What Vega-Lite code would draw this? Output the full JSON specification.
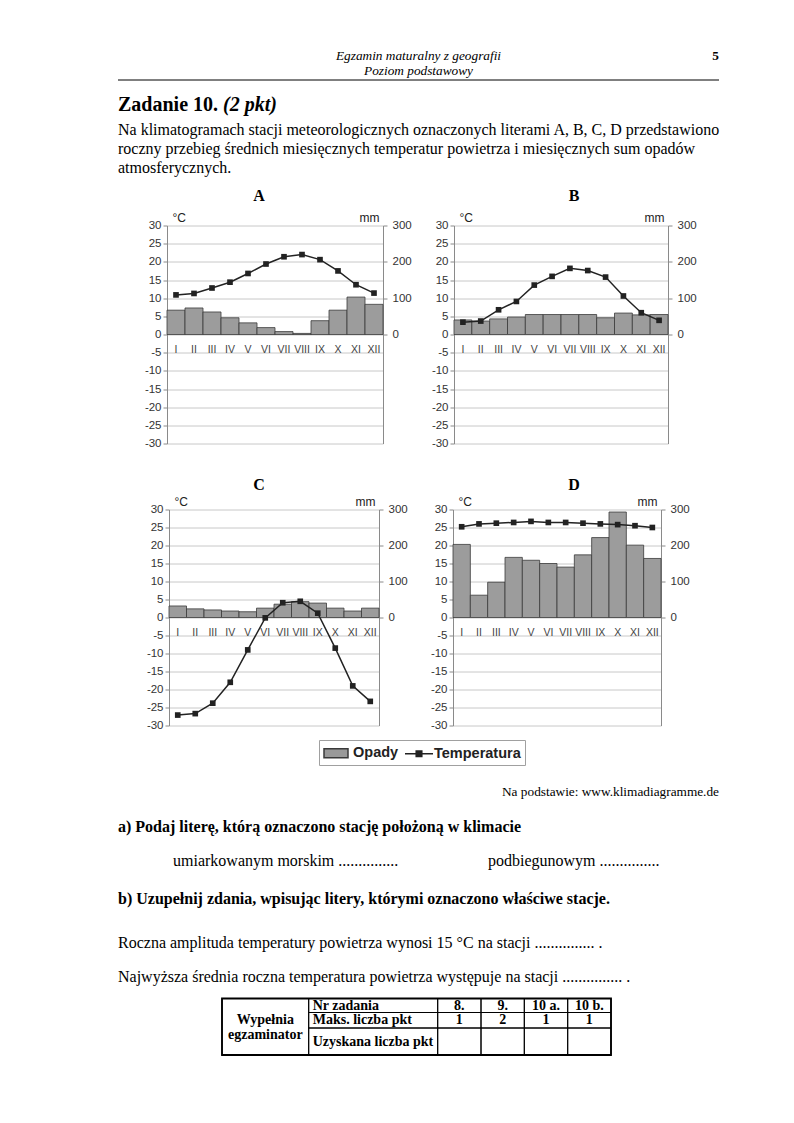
{
  "$schema": "https://vega.github.io/schema/vega-lite/v6.json",
  "padding": {"left": 117, "top": 48.5, "right": 20, "bottom": 20},
  "background": "white",
  "datasets": {
    "climate": [
      {"station": "A", "month": "I", "temp": 10.9, "precip": 67},
      {"station": "A", "month": "II", "temp": 11.3, "precip": 73},
      {"station": "A", "month": "III", "temp": 12.8, "precip": 62},
      {"station": "A", "month": "IV", "temp": 14.4, "precip": 46},
      {"station": "A", "month": "V", "temp": 16.8, "precip": 32},
      {"station": "A", "month": "VI", "temp": 19.4, "precip": 19},
      {"station": "A", "month": "VII", "temp": 21.4, "precip": 8},
      {"station": "A", "month": "VIII", "temp": 22.0, "precip": 3},
      {"station": "A", "month": "IX", "temp": 20.6, "precip": 38},
      {"station": "A", "month": "X", "temp": 17.5, "precip": 67},
      {"station": "A", "month": "XI", "temp": 13.7, "precip": 103},
      {"station": "A", "month": "XII", "temp": 11.4, "precip": 83},
      {"station": "B", "month": "I", "temp": 3.4, "precip": 40},
      {"station": "B", "month": "II", "temp": 3.7, "precip": 37},
      {"station": "B", "month": "III", "temp": 6.8, "precip": 43},
      {"station": "B", "month": "IV", "temp": 9.1, "precip": 48},
      {"station": "B", "month": "V", "temp": 13.6, "precip": 55},
      {"station": "B", "month": "VI", "temp": 16.0, "precip": 55},
      {"station": "B", "month": "VII", "temp": 18.2, "precip": 55},
      {"station": "B", "month": "VIII", "temp": 17.6, "precip": 55},
      {"station": "B", "month": "IX", "temp": 15.8, "precip": 46},
      {"station": "B", "month": "X", "temp": 10.6, "precip": 59},
      {"station": "B", "month": "XI", "temp": 6.0, "precip": 54},
      {"station": "B", "month": "XII", "temp": 3.9, "precip": 55},
      {"station": "C", "month": "I", "temp": -27.1, "precip": 32},
      {"station": "C", "month": "II", "temp": -26.7, "precip": 24},
      {"station": "C", "month": "III", "temp": -23.8, "precip": 21},
      {"station": "C", "month": "IV", "temp": -18.0, "precip": 18},
      {"station": "C", "month": "V", "temp": -9.0, "precip": 16},
      {"station": "C", "month": "VI", "temp": -0.1, "precip": 26},
      {"station": "C", "month": "VII", "temp": 4.1, "precip": 37},
      {"station": "C", "month": "VIII", "temp": 4.5, "precip": 44},
      {"station": "C", "month": "IX", "temp": 1.2, "precip": 40},
      {"station": "C", "month": "X", "temp": -8.5, "precip": 26},
      {"station": "C", "month": "XI", "temp": -19.0, "precip": 18},
      {"station": "C", "month": "XII", "temp": -23.3, "precip": 26},
      {"station": "D", "month": "I", "temp": 25.2, "precip": 203},
      {"station": "D", "month": "II", "temp": 26.0, "precip": 62},
      {"station": "D", "month": "III", "temp": 26.2, "precip": 98},
      {"station": "D", "month": "IV", "temp": 26.4, "precip": 167},
      {"station": "D", "month": "V", "temp": 26.7, "precip": 159},
      {"station": "D", "month": "VI", "temp": 26.4, "precip": 150},
      {"station": "D", "month": "VII", "temp": 26.4, "precip": 140},
      {"station": "D", "month": "VIII", "temp": 26.2, "precip": 174},
      {"station": "D", "month": "IX", "temp": 26.0, "precip": 222},
      {"station": "D", "month": "X", "temp": 25.8, "precip": 293},
      {"station": "D", "month": "XI", "temp": 25.5, "precip": 201},
      {"station": "D", "month": "XII", "temp": 25.0, "precip": 164}
    ]
  },
  "config": {
    "view": {"stroke": null},
    "font": "Liberation Serif",
    "axis": {"labelFont": "Liberation Sans", "labelFontSize": 11.5, "labelColor": "#333", "domainColor": "#8a8a8a", "tickColor": "#8a8a8a", "gridColor": "#c8c8c8", "tickSize": 4, "labelPadding": 2}
  },
  "spacing": 0,
  "bounds": "full",
  "vconcat": [
    {
      "width": 601, "height": 15,
      "data": {"values": [{"t": "Egzamin maturalny z geografii", "page": "5"}]},
      "layer": [
        {"mark": {"type": "text", "align": "center", "baseline": "middle", "font": "Liberation Serif", "fontSize": 13.3, "fontStyle": "italic", "color": "#000"},
         "encoding": {"text": {"field": "t"}}},
        {"mark": {"type": "text", "align": "right", "baseline": "middle", "font": "Liberation Serif", "fontSize": 13.3, "fontWeight": "bold", "color": "#000"},
         "encoding": {"text": {"field": "page"}, "x": {"datum": 1, "type": "quantitative", "scale": {"domain": [0, 1], "nice": false}, "axis": null}}}
      ]
    },
    {
      "width": 601, "height": 15,
      "data": {"values": [{"t": "Poziom podstawowy"}]},
      "mark": {"type": "text", "align": "center", "baseline": "middle", "font": "Liberation Serif", "fontSize": 13.3, "fontStyle": "italic", "color": "#000"},
      "encoding": {"text": {"field": "t"}}
    },
    {
      "width": 601, "height": 3,
      "data": {"values": [{"from": 0, "to": 1}]},
      "mark": {"type": "rule", "color": "#000", "strokeWidth": 1},
      "encoding": {
        "x": {"field": "from", "type": "quantitative", "scale": {"domain": [0, 1], "nice": false}, "axis": null},
        "x2": {"field": "to"},
        "y": {"datum": 0.5, "type": "quantitative", "scale": {"domain": [0, 1], "nice": false}, "axis": null}
      }
    },
    {"width": 1, "height": 10.5, "data": {"values": []}, "mark": "point"},
    {
      "width": 601, "height": 24,
      "data": {"values": [{"t": "Zadanie 10.", "pts": "(2 pkt)"}]},
      "layer": [
        {"mark": {"type": "text", "align": "left", "baseline": "middle", "font": "Liberation Serif", "fontSize": 20, "fontWeight": "bold", "color": "#000"},
         "encoding": {"text": {"field": "t"}, "x": {"datum": 0, "type": "quantitative", "scale": {"domain": [0, 1], "nice": false}, "axis": null}}},
        {"mark": {"type": "text", "align": "left", "baseline": "middle", "dx": 105, "font": "Liberation Serif", "fontSize": 20, "fontWeight": "bold", "fontStyle": "italic", "color": "#000"},
         "encoding": {"text": {"field": "pts"}, "x": {"datum": 0, "type": "quantitative", "scale": {"domain": [0, 1], "nice": false}, "axis": null}}}
      ]
    },
    {"width": 1, "height": 3.75, "data": {"values": []}, "mark": "point"},
    {
      "width": 601, "height": 18.5,
      "data": {"values": [{"t": "Na klimatogramach stacji meteorologicznych oznaczonych literami A, B, C, D przedstawiono"}]},
      "mark": {"type": "text", "align": "left", "baseline": "middle", "font": "Liberation Serif", "fontSize": 16, "color": "#000"},
      "encoding": {"text": {"field": "t"}, "x": {"datum": 0, "type": "quantitative", "scale": {"domain": [0, 1], "nice": false}, "axis": null}}
    },
    {
      "width": 601, "height": 18.5,
      "data": {"values": [{"t": "roczny przebieg średnich miesięcznych temperatur powietrza i miesięcznych sum opadów"}]},
      "mark": {"type": "text", "align": "left", "baseline": "middle", "font": "Liberation Serif", "fontSize": 16, "color": "#000"},
      "encoding": {"text": {"field": "t"}, "x": {"datum": 0, "type": "quantitative", "scale": {"domain": [0, 1], "nice": false}, "axis": null}}
    },
    {
      "width": 601, "height": 18.5,
      "data": {"values": [{"t": "atmosferycznych."}]},
      "mark": {"type": "text", "align": "left", "baseline": "middle", "font": "Liberation Serif", "fontSize": 16, "color": "#000"},
      "encoding": {"text": {"field": "t"}, "x": {"datum": 0, "type": "quantitative", "scale": {"domain": [0, 1], "nice": false}, "axis": null}}
    },
    {"width": 1, "height": 9.75, "data": {"values": []}, "mark": "point"},
    {
      "spacing": 0, "bounds": "flush",
      "hconcat": [
        {"width": 49, "height": 235, "data": {"values": []}, "mark": "point"},
        {
          "width": 216, "height": 218,
          "data": {"name": "climate"},
          "transform": [{"filter": "datum.station === 'A'"}],
          "title": {"text": "A", "font": "Liberation Serif", "fontSize": 16, "fontWeight": "bold", "color": "#000", "dx": -16, "offset": 0, "baseline": "middle"},
          "encoding": {"x": {"field": "month", "type": "ordinal", "sort": ["I","II","III","IV","V","VI","VII","VIII","IX","X","XI","XII"], "scale": {"paddingInner": 0, "paddingOuter": 0}, "axis": {"orient": "bottom", "offset": -109, "title": null, "domain": false, "ticks": false, "grid": false, "labelAngle": 0, "labelPadding": 10, "labelFontSize": 10.5, "labelColor": "#444"}}},
          "layer": [
            {"mark": {"type": "bar", "fill": "#9c9c9c", "stroke": "#3a3a3a", "strokeWidth": 0.8},
             "encoding": {"y": {"field": "precip", "type": "quantitative", "scale": {"domain": [-300, 300], "nice": false}, "axis": {"orient": "right", "values": [0, 100, 200, 300], "grid": false, "title": "mm", "titleAngle": 0, "titleX": -4, "titleY": -8, "titleAlign": "right", "titleBaseline": "middle", "titleFont": "Liberation Sans", "titleFontSize": 12, "titleFontWeight": "normal", "titleColor": "#222", "labelPadding": 5}}}},
            {"mark": {"type": "line", "color": "#222", "strokeWidth": 1.5, "point": {"shape": "square", "size": 32, "filled": true, "color": "#222"}},
             "encoding": {"y": {"field": "temp", "type": "quantitative", "scale": {"domain": [-30, 30], "nice": false}, "axis": {"orient": "left", "values": [-30,-25,-20,-15,-10,-5,0,5,10,15,20,25,30], "labelExpr": "'' + datum.value", "grid": true, "title": "°C", "titleAngle": 0, "titleX": 5, "titleY": -8, "titleAlign": "left", "titleBaseline": "middle", "titleFont": "Liberation Sans", "titleFontSize": 12, "titleFontWeight": "normal", "titleColor": "#222"}}}}
          ],
          "resolve": {"scale": {"y": "independent"}}
        },
        {"width": 71, "height": 1, "data": {"values": []}, "mark": "point"},
        {
          "width": 214, "height": 218,
          "data": {"name": "climate"},
          "transform": [{"filter": "datum.station === 'B'"}],
          "title": {"text": "B", "font": "Liberation Serif", "fontSize": 16, "fontWeight": "bold", "color": "#000", "dx": 13, "offset": 0, "baseline": "middle"},
          "encoding": {"x": {"field": "month", "type": "ordinal", "sort": ["I","II","III","IV","V","VI","VII","VIII","IX","X","XI","XII"], "scale": {"paddingInner": 0, "paddingOuter": 0}, "axis": {"orient": "bottom", "offset": -109, "title": null, "domain": false, "ticks": false, "grid": false, "labelAngle": 0, "labelPadding": 10, "labelFontSize": 10.5, "labelColor": "#444"}}},
          "layer": [
            {"mark": {"type": "bar", "fill": "#9c9c9c", "stroke": "#3a3a3a", "strokeWidth": 0.8},
             "encoding": {"y": {"field": "precip", "type": "quantitative", "scale": {"domain": [-300, 300], "nice": false}, "axis": {"orient": "right", "values": [0, 100, 200, 300], "grid": false, "title": "mm", "titleAngle": 0, "titleX": -4, "titleY": -8, "titleAlign": "right", "titleBaseline": "middle", "titleFont": "Liberation Sans", "titleFontSize": 12, "titleFontWeight": "normal", "titleColor": "#222", "labelPadding": 5}}}},
            {"mark": {"type": "line", "color": "#222", "strokeWidth": 1.5, "point": {"shape": "square", "size": 32, "filled": true, "color": "#222"}},
             "encoding": {"y": {"field": "temp", "type": "quantitative", "scale": {"domain": [-30, 30], "nice": false}, "axis": {"orient": "left", "values": [-30,-25,-20,-15,-10,-5,0,5,10,15,20,25,30], "labelExpr": "'' + datum.value", "grid": true, "title": "°C", "titleAngle": 0, "titleX": 5, "titleY": -8, "titleAlign": "left", "titleBaseline": "middle", "titleFont": "Liberation Sans", "titleFontSize": 12, "titleFontWeight": "normal", "titleColor": "#222"}}}}
          ],
          "resolve": {"scale": {"y": "independent"}}
        }
      ]
    },
    {"width": 1, "height": 16, "data": {"values": []}, "mark": "point"},
    {
      "spacing": 0, "bounds": "flush",
      "hconcat": [
        {"width": 51, "height": 230, "data": {"values": []}, "mark": "point"},
        {
          "width": 210, "height": 216,
          "data": {"name": "climate"},
          "transform": [{"filter": "datum.station === 'C'"}],
          "title": {"text": "C", "font": "Liberation Serif", "fontSize": 16, "fontWeight": "bold", "color": "#000", "dx": -15, "offset": -5, "baseline": "middle"},
          "encoding": {"x": {"field": "month", "type": "ordinal", "sort": ["I","II","III","IV","V","VI","VII","VIII","IX","X","XI","XII"], "scale": {"paddingInner": 0, "paddingOuter": 0}, "axis": {"orient": "bottom", "offset": -108, "title": null, "domain": false, "ticks": false, "grid": false, "labelAngle": 0, "labelPadding": 10, "labelFontSize": 10.5, "labelColor": "#444"}}},
          "layer": [
            {"mark": {"type": "bar", "fill": "#9c9c9c", "stroke": "#3a3a3a", "strokeWidth": 0.8},
             "encoding": {"y": {"field": "precip", "type": "quantitative", "scale": {"domain": [-300, 300], "nice": false}, "axis": {"orient": "right", "values": [0, 100, 200, 300], "grid": false, "title": "mm", "titleAngle": 0, "titleX": -4, "titleY": -8, "titleAlign": "right", "titleBaseline": "middle", "titleFont": "Liberation Sans", "titleFontSize": 12, "titleFontWeight": "normal", "titleColor": "#222", "labelPadding": 5}}}},
            {"mark": {"type": "line", "color": "#222", "strokeWidth": 1.5, "point": {"shape": "square", "size": 32, "filled": true, "color": "#222"}},
             "encoding": {"y": {"field": "temp", "type": "quantitative", "scale": {"domain": [-30, 30], "nice": false}, "axis": {"orient": "left", "values": [-30,-25,-20,-15,-10,-5,0,5,10,15,20,25,30], "labelExpr": "'' + datum.value", "grid": true, "title": "°C", "titleAngle": 0, "titleX": 5, "titleY": -8, "titleAlign": "left", "titleBaseline": "middle", "titleFont": "Liberation Sans", "titleFontSize": 12, "titleFontWeight": "normal", "titleColor": "#222"}}}}
          ],
          "resolve": {"scale": {"y": "independent"}}
        },
        {"width": 74, "height": 1, "data": {"values": []}, "mark": "point"},
        {
          "width": 208, "height": 216,
          "data": {"name": "climate"},
          "transform": [{"filter": "datum.station === 'D'"}],
          "title": {"text": "D", "font": "Liberation Serif", "fontSize": 16, "fontWeight": "bold", "color": "#000", "dx": 17, "offset": -5, "baseline": "middle"},
          "encoding": {"x": {"field": "month", "type": "ordinal", "sort": ["I","II","III","IV","V","VI","VII","VIII","IX","X","XI","XII"], "scale": {"paddingInner": 0, "paddingOuter": 0}, "axis": {"orient": "bottom", "offset": -108, "title": null, "domain": false, "ticks": false, "grid": false, "labelAngle": 0, "labelPadding": 10, "labelFontSize": 10.5, "labelColor": "#444"}}},
          "layer": [
            {"mark": {"type": "bar", "fill": "#9c9c9c", "stroke": "#3a3a3a", "strokeWidth": 0.8},
             "encoding": {"y": {"field": "precip", "type": "quantitative", "scale": {"domain": [-300, 300], "nice": false}, "axis": {"orient": "right", "values": [0, 100, 200, 300], "grid": false, "title": "mm", "titleAngle": 0, "titleX": -4, "titleY": -8, "titleAlign": "right", "titleBaseline": "middle", "titleFont": "Liberation Sans", "titleFontSize": 12, "titleFontWeight": "normal", "titleColor": "#222", "labelPadding": 5}}}},
            {"mark": {"type": "line", "color": "#222", "strokeWidth": 1.5, "point": {"shape": "square", "size": 32, "filled": true, "color": "#222"}},
             "encoding": {"y": {"field": "temp", "type": "quantitative", "scale": {"domain": [-30, 30], "nice": false}, "axis": {"orient": "left", "values": [-30,-25,-20,-15,-10,-5,0,5,10,15,20,25,30], "labelExpr": "'' + datum.value", "grid": true, "title": "°C", "titleAngle": 0, "titleX": 5, "titleY": -8, "titleAlign": "left", "titleBaseline": "middle", "titleFont": "Liberation Sans", "titleFontSize": 12, "titleFontWeight": "normal", "titleColor": "#222"}}}}
          ],
          "resolve": {"scale": {"y": "independent"}}
        }
      ]
    },
    {
      "width": 601, "height": 24,
      "data": {"values": [{"series": "Opady"}, {"series": "Temperatura"}]},
      "mark": {"type": "point", "filled": true, "size": 0, "strokeWidth": 1.5},
      "encoding": {
        "fill": {"field": "series", "type": "nominal", "scale": {"domain": ["Opady", "Temperatura"], "range": ["#999999", "#222222"]},
                 "legend": {"title": null, "orient": "none", "legendX": 201, "legendY": 691.5, "direction": "horizontal", "symbolSize": 256, "labelFont": "Liberation Sans", "labelFontSize": 14.5, "labelFontWeight": "bold", "labelColor": "#222", "labelOffset": 12, "columnPadding": 3, "padding": 4, "strokeColor": "#a0a0a0", "fillColor": "white", "symbolStrokeWidth": 1.5, "symbolOpacity": 1}},
        "stroke": {"field": "series", "type": "nominal", "scale": {"domain": ["Opady", "Temperatura"], "range": ["#3a3a3a", "#222222"]},
                 "legend": {"title": null, "orient": "none", "legendX": 201, "legendY": 691.5, "direction": "horizontal", "symbolSize": 256, "labelFont": "Liberation Sans", "labelFontSize": 14.5, "labelFontWeight": "bold", "labelColor": "#222", "labelOffset": 12, "columnPadding": 3, "padding": 4, "strokeColor": "#a0a0a0", "fillColor": "white", "symbolStrokeWidth": 1.5, "symbolOpacity": 1}},
        "shape": {"field": "series", "type": "nominal", "scale": {"domain": ["Opady", "Temperatura"], "range": ["M-1,-0.5625H2V0.5625H-1Z", "M-1,0H2.5M0.4,-0.35H1.1V0.35H0.4Z"]},
                  "legend": {"title": null, "orient": "none", "legendX": 201, "legendY": 691.5, "direction": "horizontal", "symbolSize": 256, "labelFont": "Liberation Sans", "labelFontSize": 14.5, "labelFontWeight": "bold", "labelColor": "#222", "labelOffset": 12, "columnPadding": 3, "padding": 4, "strokeColor": "#a0a0a0", "fillColor": "white", "symbolStrokeWidth": 1.5, "symbolOpacity": 1}}
      }
    },
    {"width": 1, "height": 20, "data": {"values": []}, "mark": "point"},
    {
      "width": 601, "height": 16,
      "data": {"values": [{"t": "Na podstawie: www.klimadiagramme.de"}]},
      "mark": {"type": "text", "align": "right", "baseline": "middle", "font": "Liberation Serif", "fontSize": 13.3, "color": "#000"},
      "encoding": {"text": {"field": "t"}, "x": {"datum": 1, "type": "quantitative", "scale": {"domain": [0, 1], "nice": false}, "axis": null}}
    },
    {"width": 1, "height": 18, "data": {"values": []}, "mark": "point"},
    {
      "width": 601, "height": 18,
      "data": {"values": [{"t": "a) Podaj literę, którą oznaczono stację położoną w klimacie"}]},
      "mark": {"type": "text", "align": "left", "baseline": "middle", "font": "Liberation Serif", "fontSize": 16, "fontWeight": "bold", "color": "#000"},
      "encoding": {"text": {"field": "t"}, "x": {"datum": 0, "type": "quantitative", "scale": {"domain": [0, 1], "nice": false}, "axis": null}}
    },
    {"width": 1, "height": 16, "data": {"values": []}, "mark": "point"},
    {
      "width": 601, "height": 18,
      "data": {"values": [{"t": "umiarkowanym morskim ...............", "t2": "podbiegunowym ..............."}]},
      "layer": [
        {"mark": {"type": "text", "align": "left", "baseline": "middle", "dx": 55, "font": "Liberation Serif", "fontSize": 16, "color": "#000"},
         "encoding": {"text": {"field": "t"}, "x": {"datum": 0, "type": "quantitative", "scale": {"domain": [0, 1], "nice": false}, "axis": null}}},
        {"mark": {"type": "text", "align": "left", "baseline": "middle", "dx": 370, "font": "Liberation Serif", "fontSize": 16, "color": "#000"},
         "encoding": {"text": {"field": "t2"}, "x": {"datum": 0, "type": "quantitative", "scale": {"domain": [0, 1], "nice": false}, "axis": null}}}
      ]
    },
    {"width": 1, "height": 20, "data": {"values": []}, "mark": "point"},
    {
      "width": 601, "height": 18,
      "data": {"values": [{"t": "b) Uzupełnij zdania, wpisując litery, którymi oznaczono właściwe stacje."}]},
      "mark": {"type": "text", "align": "left", "baseline": "middle", "font": "Liberation Serif", "fontSize": 16, "fontWeight": "bold", "color": "#000"},
      "encoding": {"text": {"field": "t"}, "x": {"datum": 0, "type": "quantitative", "scale": {"domain": [0, 1], "nice": false}, "axis": null}}
    },
    {"width": 1, "height": 26, "data": {"values": []}, "mark": "point"},
    {
      "width": 601, "height": 18,
      "data": {"values": [{"t": "Roczna amplituda temperatury powietrza wynosi 15 °C na stacji ............... ."}]},
      "mark": {"type": "text", "align": "left", "baseline": "middle", "font": "Liberation Serif", "fontSize": 16, "color": "#000"},
      "encoding": {"text": {"field": "t"}, "x": {"datum": 0, "type": "quantitative", "scale": {"domain": [0, 1], "nice": false}, "axis": null}}
    },
    {"width": 1, "height": 16, "data": {"values": []}, "mark": "point"},
    {
      "width": 601, "height": 18,
      "data": {"values": [{"t": "Najwyższa średnia roczna temperatura powietrza występuje na stacji ............... ."}]},
      "mark": {"type": "text", "align": "left", "baseline": "middle", "font": "Liberation Serif", "fontSize": 16, "color": "#000"},
      "encoding": {"text": {"field": "t"}, "x": {"datum": 0, "type": "quantitative", "scale": {"domain": [0, 1], "nice": false}, "axis": null}}
    },
    {"width": 1, "height": 12, "data": {"values": []}, "mark": "point"},
    {
      "width": 601, "height": 56.5,
      "data": {"values": [
        {"kind": "frame", "text": "", "c0": 0, "c1": 6, "r0": 0, "r1": 3, "cx": 3, "ry": 1.5},
        {"kind": "side", "text": "Wypełnia\negzaminator", "c0": 0, "c1": 1, "r0": 0, "r1": 3, "cx": 0.5, "ry": 1.5},
        {"kind": "label", "text": "Nr zadania", "c0": 1, "c1": 2, "r0": 0, "r1": 1, "cx": 1.5, "ry": 0.5},
        {"kind": "value", "text": "8.", "c0": 2, "c1": 3, "r0": 0, "r1": 1, "cx": 2.5, "ry": 0.5},
        {"kind": "value", "text": "9.", "c0": 3, "c1": 4, "r0": 0, "r1": 1, "cx": 3.5, "ry": 0.5},
        {"kind": "value", "text": "10 a.", "c0": 4, "c1": 5, "r0": 0, "r1": 1, "cx": 4.5, "ry": 0.5},
        {"kind": "value", "text": "10 b.", "c0": 5, "c1": 6, "r0": 0, "r1": 1, "cx": 5.5, "ry": 0.5},
        {"kind": "label", "text": "Maks. liczba pkt", "c0": 1, "c1": 2, "r0": 1, "r1": 2, "cx": 1.5, "ry": 1.5},
        {"kind": "value", "text": "1", "c0": 2, "c1": 3, "r0": 1, "r1": 2, "cx": 2.5, "ry": 1.5},
        {"kind": "value", "text": "2", "c0": 3, "c1": 4, "r0": 1, "r1": 2, "cx": 3.5, "ry": 1.5},
        {"kind": "value", "text": "1", "c0": 4, "c1": 5, "r0": 1, "r1": 2, "cx": 4.5, "ry": 1.5},
        {"kind": "value", "text": "1", "c0": 5, "c1": 6, "r0": 1, "r1": 2, "cx": 5.5, "ry": 1.5},
        {"kind": "label", "text": "Uzyskana liczba pkt", "c0": 1, "c1": 2, "r0": 2, "r1": 3, "cx": 1.5, "ry": 2.5},
        {"kind": "value", "text": "", "c0": 2, "c1": 3, "r0": 2, "r1": 3, "cx": 2.5, "ry": 2.5},
        {"kind": "value", "text": "", "c0": 3, "c1": 4, "r0": 2, "r1": 3, "cx": 3.5, "ry": 2.5},
        {"kind": "value", "text": "", "c0": 4, "c1": 5, "r0": 2, "r1": 3, "cx": 4.5, "ry": 2.5},
        {"kind": "value", "text": "", "c0": 5, "c1": 6, "r0": 2, "r1": 3, "cx": 5.5, "ry": 2.5}
      ]},
      "encoding": {
        "x": {"field": "c0", "type": "quantitative", "scale": {"domain": [0, 1, 2, 3, 4, 5, 6], "range": [104, 190.7, 319.7, 363, 406.3, 449.7, 493], "nice": false, "zero": false}, "axis": null},
        "y": {"field": "r0", "type": "quantitative", "scale": {"domain": [0, 1, 2, 3], "range": [0, 14, 29.5, 56.5], "nice": false, "zero": false}, "axis": null}
      },
      "layer": [
        {"transform": [{"filter": "datum.kind !== 'frame'"}],
         "mark": {"type": "rect", "fill": "transparent", "stroke": "#000", "strokeWidth": 1},
         "encoding": {"x2": {"field": "c1"}, "y2": {"field": "r1"}}},
        {"transform": [{"filter": "datum.kind === 'frame'"}],
         "mark": {"type": "rect", "fill": "transparent", "stroke": "#000", "strokeWidth": 1.8},
         "encoding": {"x2": {"field": "c1"}, "y2": {"field": "r1"}}},
        {"transform": [{"filter": "datum.kind === 'label'"}],
         "mark": {"type": "text", "align": "left", "baseline": "middle", "dx": 4, "font": "Liberation Serif", "fontSize": 14, "fontWeight": "bold", "color": "#000"},
         "encoding": {"y": {"field": "ry", "type": "quantitative"}, "text": {"field": "text"}}},
        {"transform": [{"filter": "(datum.kind === 'value' || datum.kind === 'side') && datum.text !== ''"}],
         "mark": {"type": "text", "align": "center", "baseline": "middle", "lineBreak": "\n", "lineHeight": 15, "font": "Liberation Serif", "fontSize": 14, "fontWeight": "bold", "color": "#000"},
         "encoding": {"x": {"field": "cx", "type": "quantitative"}, "y": {"field": "ry", "type": "quantitative"}, "text": {"field": "text"}}}
      ]
    }
  ]
}
